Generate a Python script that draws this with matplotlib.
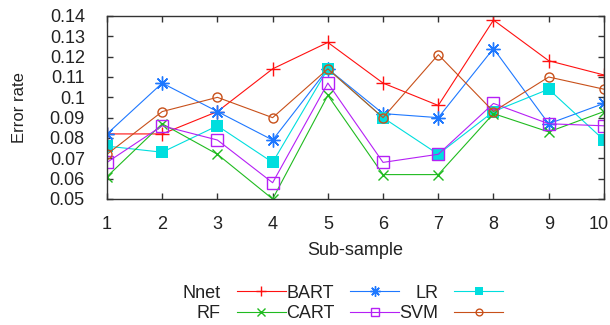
import matplotlib
matplotlib.use("Agg")
import matplotlib.pyplot as plt
import matplotlib.transforms as mtransforms

plt.rcParams["font.family"] = ["Liberation Sans", "DejaVu Sans"]

sub_sample = [1, 2, 3, 4, 5, 6, 7, 8, 9, 10]

nnet = [0.082, 0.082, 0.093, 0.114, 0.127, 0.107, 0.096, 0.138, 0.118, 0.111]
bart = [0.082, 0.107, 0.093, 0.079, 0.114, 0.092, 0.090, 0.124, 0.087, 0.097]
lr = [0.076, 0.073, 0.086, 0.068, 0.114, 0.090, 0.072, 0.093, 0.104, 0.079]
rf = [0.061, 0.087, 0.072, 0.050, 0.101, 0.062, 0.062, 0.092, 0.083, 0.093]
cart = [0.068, 0.086, 0.079, 0.058, 0.107, 0.068, 0.072, 0.097, 0.087, 0.086]
svm = [0.072, 0.093, 0.100, 0.090, 0.114, 0.090, 0.121, 0.093, 0.110, 0.104]

y_ticks = [0.05, 0.06, 0.07, 0.08, 0.09, 0.1, 0.11, 0.12, 0.13, 0.14]
y_tick_labels = ["0.05", "0.06", "0.07", "0.08", "0.09", "0.1", "0.11", "0.12", "0.13", "0.14"]

fig = plt.figure(figsize=(6.1, 3.25), dpi=100)
ax = fig.add_axes([0.1754, 0.3877, 0.8146, 0.5631])

series = [
    ("Nnet", nnet, "#ff1010", dict(marker="+", ms=10, mew=1.0, mfc="none")),
    ("BART", bart, "#1e78ff", dict(marker=(8, 2, 0), ms=10, mew=1.0)),
    ("LR", lr, "#00dede", dict(marker="s", ms=8.5, mew=0)),
    ("RF", rf, "#20bb20", dict(marker="x", ms=7.5, mew=1.0)),
    ("CART", cart, "#b520f5", dict(marker="s", ms=8.5, mew=1.0, mfc="none")),
    ("SVM", svm, "#c8501a", dict(marker="o", ms=6.5, mew=1.0, mfc="none")),
]

handles = {}
for name, vals, col, mk in series:
    line, = ax.plot(sub_sample, vals, color=col, lw=0.8, label=name, **mk)
    handles[name] = line

ax.set_xlim(1, 10)
ax.set_ylim(0.05, 0.14)
ax.set_xticks(sub_sample)
ax.set_yticks(y_ticks)
ax.set_yticklabels(y_tick_labels)
ax.tick_params(direction="in", length=4, width=1, top=True, right=True,
               labelsize=13, colors="#333333", labelcolor="#222222")
ax.tick_params(axis="y", pad=16)
ax.tick_params(axis="x", pad=12)
for sp in ax.spines.values():
    sp.set_color("#333333")
    sp.set_linewidth(1.0)

# last x label sits on the figure edge, nudge it left a bit
last = ax.get_xticklabels()[-1]
last.set_transform(last.get_transform() + mtransforms.ScaledTranslation(-4 / 72, 0, fig.dpi_scale_trans))

ax.set_xlabel("Sub-sample", fontsize=13, color="#222222", labelpad=7)
ax.set_ylabel("Error rate", fontsize=12, color="#222222", labelpad=16)

order = ["Nnet", "RF", "BART", "CART", "LR", "SVM"]
fig.legend([handles[n] for n in order], order, loc="center",
           bbox_to_anchor=(0.562, 0.066), ncol=3, frameon=False,
           markerfirst=False, fontsize=13, handlelength=2.7,
           handletextpad=0.9, columnspacing=0.0, labelspacing=0.2,
           borderpad=0, labelcolor="#222222", markerscale=0.75)

fig.savefig("out.png", dpi=100)
